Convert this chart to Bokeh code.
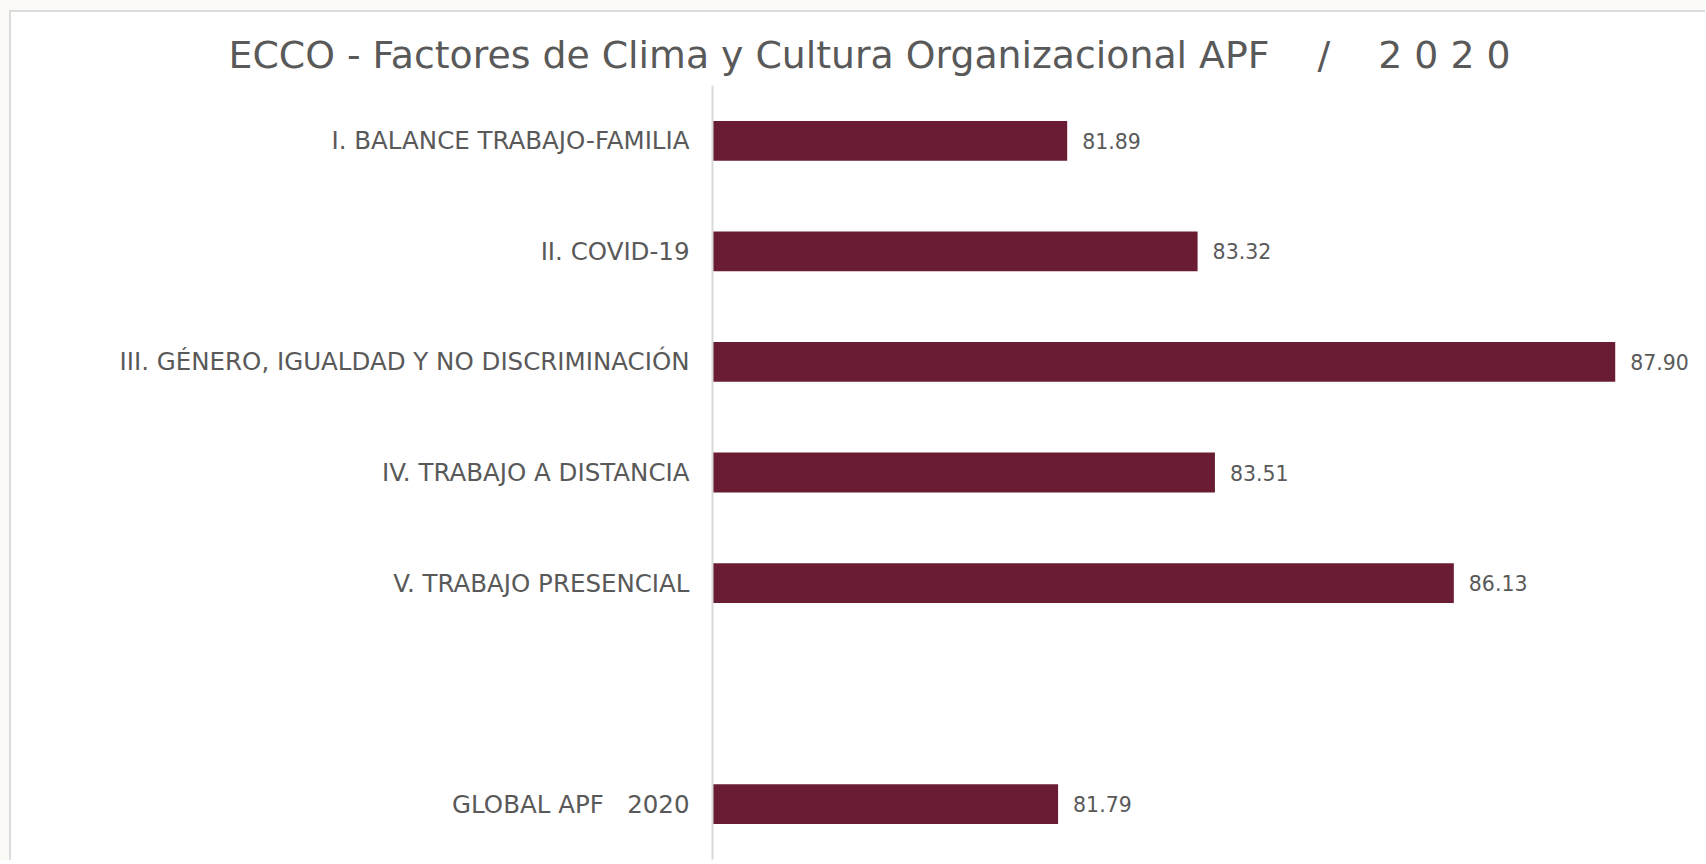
from bokeh.plotting import figure
from bokeh.models import ColumnDataSource, FactorRange, Range1d, LabelSet
from bokeh.core.properties import value
from bokeh.embed import file_html
from bokeh.resources import INLINE

NB = "\u00a0"

# ---- data ----
categories = [
    "I. BALANCE TRABAJO-FAMILIA",
    "II. COVID-19",
    "III. GÉNERO, IGUALDAD Y NO DISCRIMINACIÓN",
    "IV. TRABAJO A DISTANCIA",
    "V. TRABAJO PRESENCIAL",
    "GLOBAL APF" + NB * 3 + "2020",
]
values = [81.89, 83.32, 87.90, 83.51, 86.13, 81.79]
title_text = ("ECCO - Factores de Clima y Cultura Organizacional APF"
              + NB * 4 + "/" + NB * 4 + "2" + NB + "0" + NB + "2" + NB + "0")
x_start = 78.0
x_end = 88.89

FONT = "DejaVu Sans"
TEXT_COLOR = "#595959"
BAR_COLOR = "#691C32"
BORDER_COLOR = "#dcdcdc"

# blank slot between the factors and the global value
spacer = " "
factors = categories[:5] + [spacer] + categories[5:]

src = ColumnDataSource(dict(
    cat=categories,
    val=values,
    txt=[f"{v:.2f}" for v in values],
))

p = figure(
    width=1705, height=860,
    y_range=FactorRange(factors=list(reversed(factors))),
    x_range=Range1d(x_start, x_end),
    output_backend="svg", toolbar_location=None,
    min_border_left=712, min_border_right=0,
    min_border_top=85, min_border_bottom=1,
)

p.hbar(y="cat", left=x_start, right="val", height=0.36, source=src,
       fill_color=BAR_COLOR, line_color=None)

labels = LabelSet(x="val", y="cat", text="txt", source=src,
                  x_offset=15, text_baseline="middle", text_align="left",
                  text_font=value(FONT), text_font_size="20.5px",
                  text_color=TEXT_COLOR)
p.add_layout(labels)

p.title.text = title_text
p.title.align = "left"
p.title.offset = -484
p.title.text_font = FONT
p.title.text_font_size = "37.8px"
p.title.text_font_style = "normal"
p.title.text_color = TEXT_COLOR
p.title.standoff = 18

p.xaxis.visible = False
yax = p.yaxis[0]
yax.major_tick_line_color = None
yax.minor_tick_line_color = None
yax.major_tick_out = 0
yax.major_tick_in = 0
yax.axis_line_color = "#d9d9d9"
yax.axis_line_width = 2
yax.major_label_text_font = FONT
yax.major_label_text_font_size = "24.5px"
yax.major_label_text_color = TEXT_COLOR
yax.major_label_standoff = 23

p.xgrid.grid_line_color = None
p.ygrid.grid_line_color = None
p.outline_line_color = None
p.background_fill_color = "white"
p.border_fill_alpha = 0.0

# card look behind the transparent canvas border: light frame on left/top
p.styles = {
    "background": (
        f"linear-gradient({BORDER_COLOR},{BORDER_COLOR}) 9px 10px / 2px 2000px no-repeat, "
        f"linear-gradient({BORDER_COLOR},{BORDER_COLOR}) 9px 10px / 3000px 2px no-repeat, "
        "linear-gradient(#ffffff,#ffffff) 11px 12px / 3000px 2000px no-repeat, "
        "#fbfaf7"
    )
}

open("out.html", "w").write(file_html(p, INLINE))
